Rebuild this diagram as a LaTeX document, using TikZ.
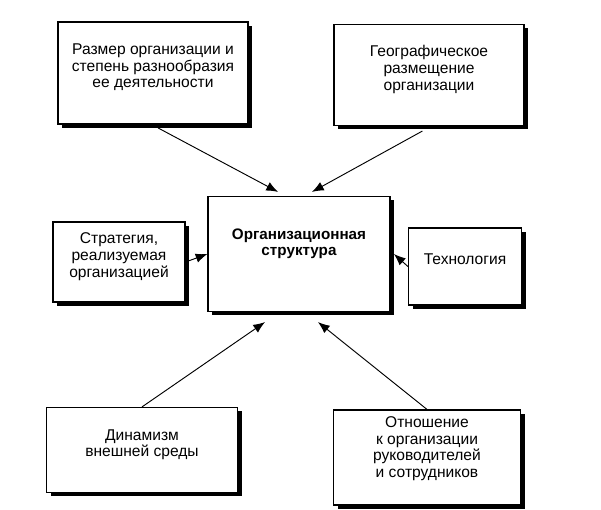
\documentclass[tikz,border=0pt]{standalone}
\usepackage{fontspec}
\setmainfont{Liberation Sans}
\usepackage{tikz}
\usetikzlibrary{arrows.meta, shadows}

\begin{document}
\begin{tikzpicture}[
    factor/.style={rectangle, draw, line width=1pt, fill=white, align=center, text depth=12pt,
        font=\fontsize{13.3}{14.2}\selectfont,
        drop shadow={shadow xshift=1.2mm, shadow yshift=-1.2mm, fill=black, opacity=1}},
    core/.style={factor, font=\bfseries\fontsize{13}{14.2}\selectfont, text depth=20pt},
    link/.style={-{Latex[length=10pt, width=8pt]}, line width=0.8pt}
]
    \useasboundingbox (0,0) rectangle (18.03,15.3);

    % Central block
    \node[core, minimum width=5.46cm, minimum height=3.45cm] (org) at (8.97,7.68) {Организационная\\структура};

    % Factor blocks
    \node[factor, minimum width=5.7cm, minimum height=3.06cm] (size) at (4.59,13.11) {Размер организации и\\степень разнообразия\\ее деятельности};
    \node[factor, minimum width=5.7cm, minimum height=3.03cm] (geo) at (12.87,13.05) {Географическое\\размещение\\организации};
    \node[factor, minimum width=3.96cm, minimum height=2.4cm] (strat) at (3.57,7.44) {Стратегия,\\реализуемая\\организацией};
    \node[factor, minimum width=3.39cm, minimum height=2.31cm] (tech) at (13.95,7.305) {Технология};
    \node[factor, minimum width=5.73cm, minimum height=2.55cm] (dyn) at (4.26,1.8) {Динамизм\\внешней среды};
    \node[factor, minimum width=5.61cm, minimum height=2.85cm, text depth=18pt] (rel) at (12.81,1.575) {Отношение\\к организации\\руководителей\\и сотрудников};

    % Influence arrows
    \draw[link] ([xshift=0.15cm, yshift=-0.1cm]size.south) -- ([xshift=-0.63cm, yshift=0.12cm]org.north);
    \draw[link] ([xshift=-0.2cm, yshift=-0.15cm]geo.south) -- ([xshift=0.39cm, yshift=0.12cm]org.north);
    \draw[link] (strat.east) -- (org.west);
    \draw[link] (tech.west) -- ([xshift=0.1cm]org.east);
    \draw[link] (dyn.north) -- ([xshift=-1.02cm, yshift=-0.3cm]org.south);
    \draw[link] (rel.north) -- ([xshift=0.57cm, yshift=-0.3cm]org.south);

\end{tikzpicture}
\end{document}
